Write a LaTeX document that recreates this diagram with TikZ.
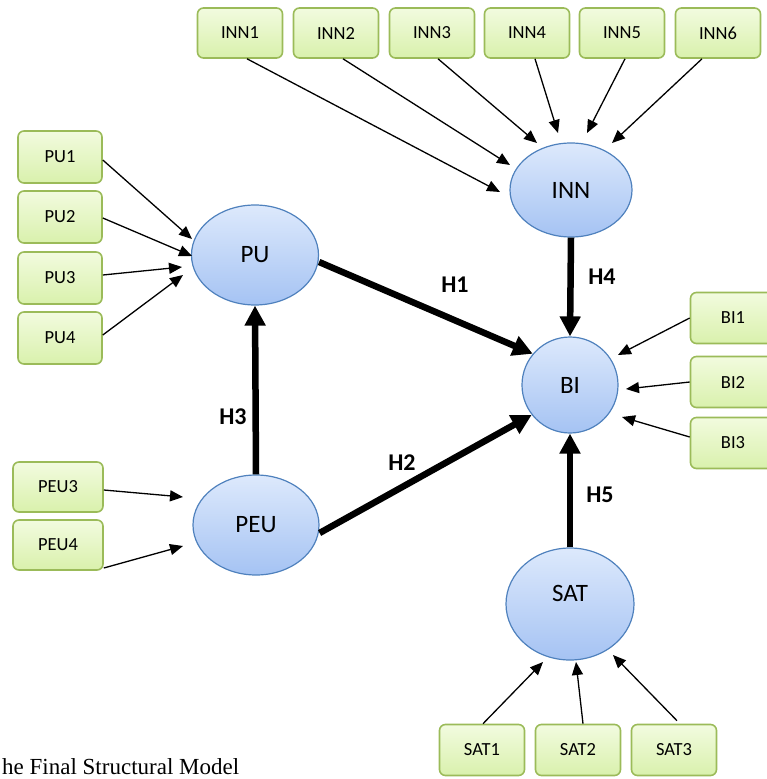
\documentclass[tikz,border=0pt]{standalone}
\usepackage{fontspec}
\setmainfont{Carlito}
\newfontfamily\capfont{Liberation Serif}
\usetikzlibrary{arrows.meta,shapes.geometric}
\definecolor{boxborder}{HTML}{9BBB59}
\definecolor{boxtop}{HTML}{F2FBDF}
\definecolor{boxbot}{HTML}{D9F1AC}
\definecolor{ellborder}{HTML}{4F81BD}
\definecolor{elltop}{HTML}{DDE9FC}
\definecolor{ellbot}{HTML}{A5C3F3}
\tikzset{
  ind/.style={draw=boxborder, line width=1.6pt, rounded corners=6pt,
    top color=boxtop, bottom color=boxbot, minimum width=85pt,
    minimum height=50pt, inner sep=0pt, font=\fontsize{18.5}{22}\selectfont},
  lat/.style={ellipse, draw=ellborder, line width=1.2pt, top color=elltop,
    bottom color=ellbot, inner sep=0pt, font=\fontsize{25}{28}\selectfont},
  thin/.style={line width=1.3pt, -{Triangle[length=13pt,width=11pt]}},
  thick/.style={line width=6.5pt, -{Triangle[length=20pt,width=20pt]}},
  hlab/.style={font=\bfseries\fontsize{24}{28}\selectfont}
}
\begin{document}
\begin{tikzpicture}[x=1pt,y=-1pt]
\useasboundingbox (0,0) rectangle (767,779);
% latent variables
\node[lat, minimum width=122pt, minimum height=94pt] (inn) at (571,190) {INN};
\node[lat, minimum width=127pt, minimum height=100pt] (pu) at (255,255) {PU};
\node[lat, minimum width=126pt, minimum height=100pt] (peu) at (256,525) {PEU};
\node[lat, minimum width=96pt, minimum height=96pt] (bi) at (570,385) {BI};
\node[lat, minimum width=128pt, minimum height=112pt,
  label={[font=\fontsize{25}{28}\selectfont, yshift=11pt]center:SAT}] (sat) at (570,604) {};
% indicators
\node[ind] (inn1) at (240,33) {INN1};
\node[ind] (inn2) at (336,33) {INN2};
\node[ind] (inn3) at (432,33) {INN3};
\node[ind] (inn4) at (527,33) {INN4};
\node[ind] (inn5) at (622,33) {INN5};
\node[ind] (inn6) at (718,33) {INN6};
\node[ind, minimum width=84pt, minimum height=52pt] (pu1) at (60,157) {PU1};
\node[ind, minimum width=84pt, minimum height=52pt] (pu2) at (60,217) {PU2};
\node[ind, minimum width=84pt, minimum height=52pt] (pu3) at (60,278) {PU3};
\node[ind, minimum width=84pt, minimum height=52pt] (pu4) at (60,338) {PU4};
\node[ind, minimum width=90pt] (peu3) at (58,487) {PEU3};
\node[ind, minimum width=90pt] (peu4) at (58,545) {PEU4};
\node[ind, minimum height=51pt] (bi1) at (733,318) {BI1};
\node[ind, minimum height=51pt] (bi2) at (733,382) {BI2};
\node[ind, minimum height=51pt] (bi3) at (733,443) {BI3};
\node[ind, minimum height=51pt] (sat1) at (482,750) {SAT1};
\node[ind, minimum height=51pt] (sat2) at (578,750) {SAT2};
\node[ind, minimum height=51pt] (sat3) at (674,750) {SAT3};
% arrow tip coordinates
\coordinate (ti1) at (500,192);
\coordinate (ti2) at (510,165);
\coordinate (ti3) at (537,143);
\coordinate (ti4) at (558,133);
\coordinate (ti5) at (587,133);
\coordinate (ti6) at (612,143);
\coordinate (tp1) at (192,239);
\coordinate (tp2) at (192,256);
\coordinate (tp3) at (182,267);
\coordinate (tp4) at (183,275);
\coordinate (te3) at (183,497);
\coordinate (te4) at (183,546);
\coordinate (tb1) at (618,355);
\coordinate (tb2) at (626,389);
\coordinate (tb3) at (622,417);
\coordinate (ts1) at (543,662);
\coordinate (ts2) at (576,662);
\coordinate (ts3) at (613,655);
% thin arrows
\draw[thin] ([xshift=7pt]inn1.south) -- (ti1);
\draw[thin] ([xshift=7pt]inn2.south) -- (ti2);
\draw[thin] ([xshift=6pt]inn3.south) -- (ti3);
\draw[thin] ([xshift=8pt]inn4.south) -- (ti4);
\draw[thin] ([xshift=3pt]inn5.south) -- (ti5);
\draw[thin] ([xshift=-16pt]inn6.south) -- (ti6);
\draw[thin] ([yshift=-3pt]pu1.east) -- (tp1);
\draw[thin] ([yshift=-1pt]pu2.east) -- (tp2);
\draw[thin] ([yshift=3pt]pu3.east) -- (tp3);
\draw[thin] ([yshift=3pt]pu4.east) -- (tp4);
\draw[thin] ([yshift=-3pt]peu3.east) -- (te3);
\draw[thin] ([yshift=-23pt]peu4.east) -- (te4);
\draw[thin] (bi1.west) -- (tb1);
\draw[thin] (bi2.west) -- (tb2);
\draw[thin] ([yshift=6pt]bi3.west) -- (tb3);
\draw[thin] ([xshift=1pt]sat1.north) -- (ts1);
\draw[thin] ([xshift=5pt]sat2.north) -- (ts2);
\draw[thin] ([xshift=3pt,yshift=3pt]sat3.north) -- (ts3);
% structural paths
\draw[thick] (pu.east) ++(0,7) coordinate (s1) (s1) -- (bi.140);
\draw[thick] (peu.east) ++(0,8) coordinate (s2) (s2) -- (bi.218);
\draw[thick] (peu.north) -- (pu.south);
\draw[thick] (inn.south) -- (bi.north);
\draw[thick] (sat.north) -- (bi.south);
% labels
\node[hlab] (h1) at (455,285) {H1};
\node[hlab] (h2) at (402,463) {H2};
\node[hlab] (h3) at (233,417) {H3};
\node[hlab] (h4) at (602,277) {H4};
\node[hlab] (h5) at (600,495) {H5};
% caption
\node[anchor=south west, inner sep=0pt, font=\capfont\fontsize{23}{27}\selectfont] (cap) at (2,775) {he Final Structural Model};
\end{tikzpicture}
\end{document}
